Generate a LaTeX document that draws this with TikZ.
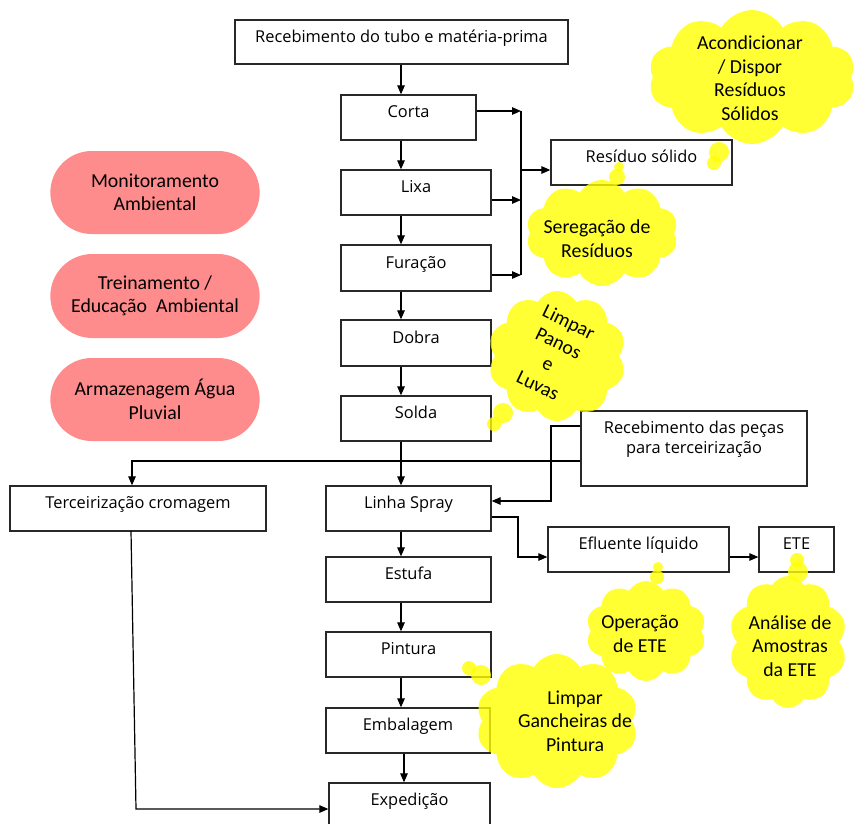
\documentclass[tikz,border=0pt]{standalone}
\usepackage{fontspec}
\setmainfont{Open Sans}
\newfontfamily\calib{Carlito}
\usetikzlibrary{shapes.symbols,shapes.misc,arrows.meta}
\definecolor{pinkfill}{RGB}{255,140,140}
\definecolor{cloudyel}{RGB}{255,255,0}
\definecolor{edge}{RGB}{40,40,40}

\begin{document}
\begin{tikzpicture}[x=1pt,y=-1pt,
  stepbox/.style={draw=edge, line width=1.3pt, fill=white, inner sep=0pt,
    text height=10pt, text depth=10pt, font=\fontsize{16.4}{20}\selectfont},
  pill/.style={rounded rectangle, fill=pinkfill, draw=none, minimum width=216,
    align=center, font=\calib\fontsize{19.8}{23.5}\selectfont},
  puff/.style={cloud, cloud puffs=10, cloud puff arc=120, cloud ignores aspect,
    fill=cloudyel, fill opacity=0.8, draw=none, inner sep=0pt},
  bubble/.style={circle, fill=cloudyel, fill opacity=0.8, draw=none, inner sep=0pt},
  cloudtext/.style={align=center, font=\calib\fontsize{19.8}{23.5}\selectfont},
  link/.style={line width=1.2pt, draw=black},
  arr/.style={link, -{Triangle[length=9pt,width=7.5pt]}}]

\useasboundingbox[fill=white] (0,0) rectangle (853,823);

% main process column
\node[stepbox, minimum width=333, minimum height=44] (top) at (401.5,42) {Recebimento do tubo e matéria-prima};
\node[stepbox, minimum width=135, minimum height=45] (corta) at (408.5,117.5) {Corta};
\node[stepbox, minimum width=150, minimum height=45] (lixa) at (416,192.5) {Lixa};
\node[stepbox, minimum width=150, minimum height=46] (furacao) at (416,268) {Furação};
\node[stepbox, minimum width=150, minimum height=46] (dobra) at (416,343) {Dobra};
\node[stepbox, minimum width=150, minimum height=45] (solda) at (416,418.5) {Solda};
\node[stepbox, minimum width=165, minimum height=45] (spray) at (408.5,508.5) {Linha Spray};
\node[stepbox, minimum width=165, minimum height=45] (estufa) at (408.5,579.5) {Estufa};
\node[stepbox, minimum width=165, minimum height=45] (pintura) at (408.5,654.5) {Pintura};
\node[stepbox, minimum width=164, minimum height=45] (embal) at (408,730.5) {Embalagem};
\node[stepbox, minimum width=161, minimum height=45] (exped) at (409.5,805.5) {Expedição};

% side boxes
\node[stepbox, minimum width=181, minimum height=45] (residuo) at (641.5,162.5) {Resíduo sólido};
\node[stepbox, minimum width=181, minimum height=45] (eflu) at (638.5,549.5) {Efluente líquido};
\node[stepbox, minimum width=75, minimum height=45] (ete) at (796.5,549.5) {ETE};
\node[stepbox, minimum width=256, minimum height=45] (terc) at (138,508.5) {Terceirização cromagem};
\node[stepbox, minimum width=226, minimum height=75, text height=20pt, text depth=10pt] (recpecas) at (694,448.5)
  {\begin{tabular}[b]{@{}c@{}}Recebimento das peças\\para terceirização\end{tabular}};

% environmental programmes
\node[pill, minimum height=83] (monit) at (155,192.5) {Monitoramento\\Ambiental};
\node[pill, minimum height=84] (trein) at (155,296) {Treinamento /\\Educação\ \ Ambiental};
\node[pill, minimum height=83] (armaz) at (155,399.5) {Armazenagem Água\\Pluvial};

% vertical flow
\coordinate (col) at (401,0);
\draw[arr] (top.south -| col) -- (corta.north -| col);
\draw[arr] (corta.south -| col) -- (lixa.north -| col);
\draw[arr] (lixa.south -| col) -- (furacao.north -| col);
\draw[arr] (furacao.south -| col) -- (dobra.north -| col);
\draw[arr] (dobra.south -| col) -- (solda.north -| col);
\draw[arr] (solda.south -| col) -- (spray.north -| col);
\draw[arr] (spray.south -| col) -- (estufa.north -| col);
\draw[arr] (estufa.south -| col) -- (pintura.north -| col);
\draw[arr] (pintura.south -| col) -- (embal.north -| col);
\coordinate (col2) at (404,0);
\draw[arr] (embal.south -| col2) -- (exped.north -| col2);

% solid waste collector
\coordinate (b1) at (521,111);
\coordinate (b2) at (521,200);
\coordinate (b3) at (521,275);
\coordinate (bm) at (521,170);
\draw[arr] (corta.east |- b1) -- (b1);
\draw[arr] (lixa.east |- b2) -- (b2);
\draw[arr] (furacao.east |- b3) -- (b3);
\draw[link] (b1) -- (b3);
\draw[arr] (bm) -- (residuo.west |- bm);

% outsourced parts
\coordinate (tp) at (132,461);
\draw[arr] (recpecas.west |- tp) -- (tp) -- (terc.north -| tp);
\coordinate (rs1) at (551,426);
\coordinate (rs2) at (551,501);
\draw[arr] (recpecas.west |- rs1) -- (rs1) -- (rs2) -- (spray.east |- rs2);
\coordinate (tx1) at (131,531);
\coordinate (tx2) at (136,809);
\draw[arr] (tx1) -- (tx2) -- (exped.west |- tx2);

% liquid effluent
\coordinate (ef1) at (518,517);
\coordinate (ef2) at (518,557);
\draw[arr] (spray.east |- ef1) -- (ef1) -- (ef2) -- (eflu.west |- ef2);
\draw[arr] (eflu.east |- ef2) -- (ete.west |- ef2);

% callout clouds
\node[puff, minimum width=207, minimum height=134] (cl1) at (752,77) {};
\node[bubble, minimum size=20] (bb1a) at (719,152) {};
\node[bubble, minimum size=14] (bb1b) at (714,163) {};
\node[cloudtext] (ct1) at (750,78) {Acondicionar\\/ Dispor\\Resíduos\\Sólidos};

\node[puff, minimum width=152, minimum height=106] (cl2) at (602,233) {};
\node[bubble, minimum size=16] (bb2a) at (617,177) {};
\node[bubble, minimum size=10] (bb2b) at (619,167) {};
\node[cloudtext] (ct2) at (597,238.5) {Seregação de\\Resíduos};

\node[puff, minimum width=138, minimum height=130] (cl3) at (557,356) {};
\node[bubble, minimum size=20] (bb3a) at (503,413) {};
\node[bubble, minimum size=14] (bb3b) at (494,424) {};
\node[cloudtext, rotate=-26] (ct3) at (553.5,353.5) {Limpar\\Panos\\e\\Luvas};

\node[puff, minimum width=120, minimum height=100] (cl4) at (646,631) {};
\node[bubble, minimum size=14] (bb4a) at (657,577) {};
\node[bubble, minimum size=10] (bb4b) at (658,567) {};
\node[cloudtext] (ct4) at (640,634) {Operação\\de ETE};

\node[puff, minimum width=118, minimum height=132] (cl5) at (788,642) {};
\node[bubble, minimum size=20] (bb5a) at (798,572) {};
\node[bubble, minimum size=14] (bb5b) at (797,560) {};
\node[cloudtext] (ct5) at (790,646) {Análise de\\Amostras\\da ETE};

\node[puff, minimum width=162, minimum height=134] (cl6) at (557,721) {};
\node[bubble, minimum size=20] (bb6a) at (481,675) {};
\node[bubble, minimum size=14] (bb6b) at (469,668) {};
\node[cloudtext] (ct6) at (575,721) {Limpar\\Gancheiras de\\Pintura};
\end{tikzpicture}
\end{document}
